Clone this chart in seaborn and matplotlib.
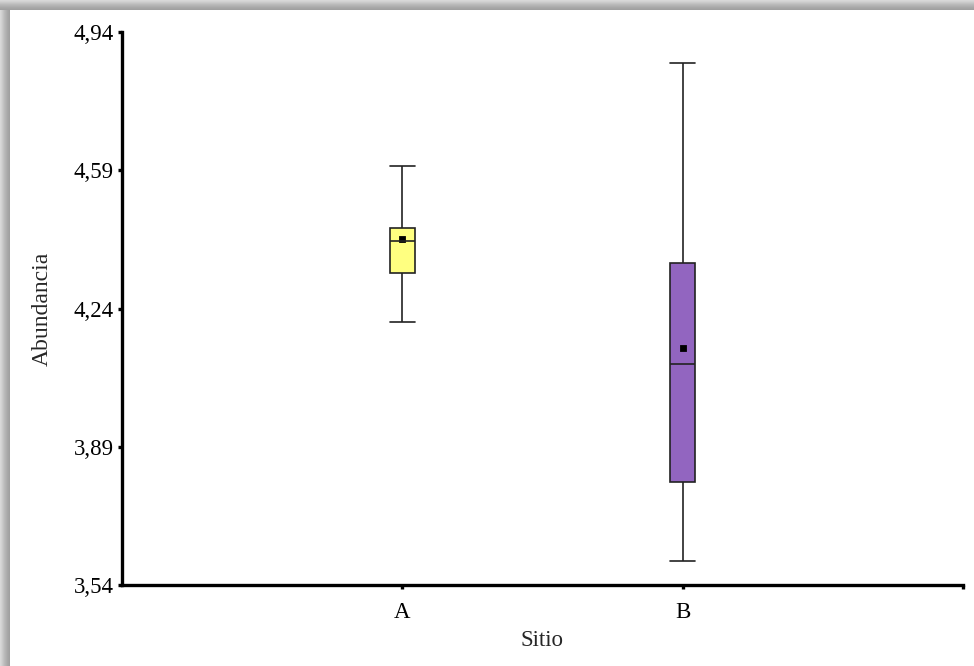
import matplotlib
matplotlib.use("Agg")
import matplotlib.pyplot as plt
import seaborn as sns
import pandas as pd
from matplotlib.patches import Rectangle

# ---- data ----
categories = ["A", "B"]
whisker_low = [4.207, 3.601]
q1_values = [4.331, 3.801]
medians = [4.410, 4.100]
q3_values = [4.443, 4.354]
whisker_high = [4.600, 4.862]
means = [4.417, 4.139]
y_ticks = [3.54, 3.89, 4.24, 4.59, 4.94]
y_tick_labels = ["3,54", "3,89", "4,24", "4,59", "4,94"]
colors = ["#FFFF80", "#9265C0"]
x_label = "Sitio"
y_label = "Abundancia"

# five-number summaries as samples (linear percentiles of 5 points hit them exactly)
rows = []
for c, lo, a, m, b, hi in zip(categories, whisker_low, q1_values, medians, q3_values, whisker_high):
    for v in (lo, a, m, b, hi):
        rows.append({"Sitio": c, "Abundancia": v})
df = pd.DataFrame(rows)
mean_df = pd.DataFrame({"Sitio": categories, "Media": means})

sns.set_style("white")
plt.rcParams["font.family"] = ["Liberation Serif", "DejaVu Serif"]

fig = plt.figure(figsize=(9.74, 6.66), dpi=100)
fig.patch.set_facecolor("white")
W, H = 974, 666
ax = fig.add_axes([122 / W, 1 - 585 / H, (963 - 122) / W, (585 - 32) / H])

box_w = 0.09
sns.boxplot(data=df, x="Sitio", y="Abundancia", hue="Sitio", order=categories,
            hue_order=categories, palette=colors, saturation=1, whis=(0, 100),
            width=box_w, linecolor="#222222", linewidth=1.2, legend=False, ax=ax,
            fliersize=0, capwidths=box_w)
sns.pointplot(data=mean_df, x="Sitio", y="Media", order=categories, color="black",
              marker="s", markersize=3.5, linestyle="none", errorbar=None, ax=ax)

ax.set_xlim(-1, 2)
ax.set_ylim(y_ticks[0], y_ticks[-1])
ax.set_yticks(y_ticks)
ax.set_yticklabels(y_tick_labels)
ax.set_xticks([0, 1])
ax.set_xticklabels(categories)
ax.set_xticks([2], minor=True)

for s in ("top", "right"):
    ax.spines[s].set_visible(False)
for s in ("left", "bottom"):
    ax.spines[s].set_linewidth(2.4)
    ax.spines[s].set_color("black")

ax.tick_params(axis="both", which="both", direction="out", length=3, width=2.4,
               colors="black", labelsize=16.5, left=True, bottom=True)
ax.tick_params(axis="y", pad=3)
ax.tick_params(axis="x", pad=9)
ax.set_xlabel(x_label, fontsize=16.5, labelpad=5)
ax.set_ylabel(y_label, fontsize=17, labelpad=15)
ax.grid(False)

# frame shadow on top and left edges
shade = ["#d8d8d8", "#d2d2d2", "#cacaca", "#c2c2c2", "#bababa",
         "#b4b4b4", "#aeaeae", "#a8a8a8", "#a4a4a4", "#a0a0a0"]
for i, col in enumerate(shade):
    fig.add_artist(Rectangle((0, 1 - (i + 1) / H), 1, 1 / H, transform=fig.transFigure,
                             facecolor=col, edgecolor="none"))
    fig.add_artist(Rectangle((i / W, 0), 1 / W, 1 - 10 / H, transform=fig.transFigure,
                             facecolor=col, edgecolor="none"))

fig.savefig("out.png", dpi=100)
